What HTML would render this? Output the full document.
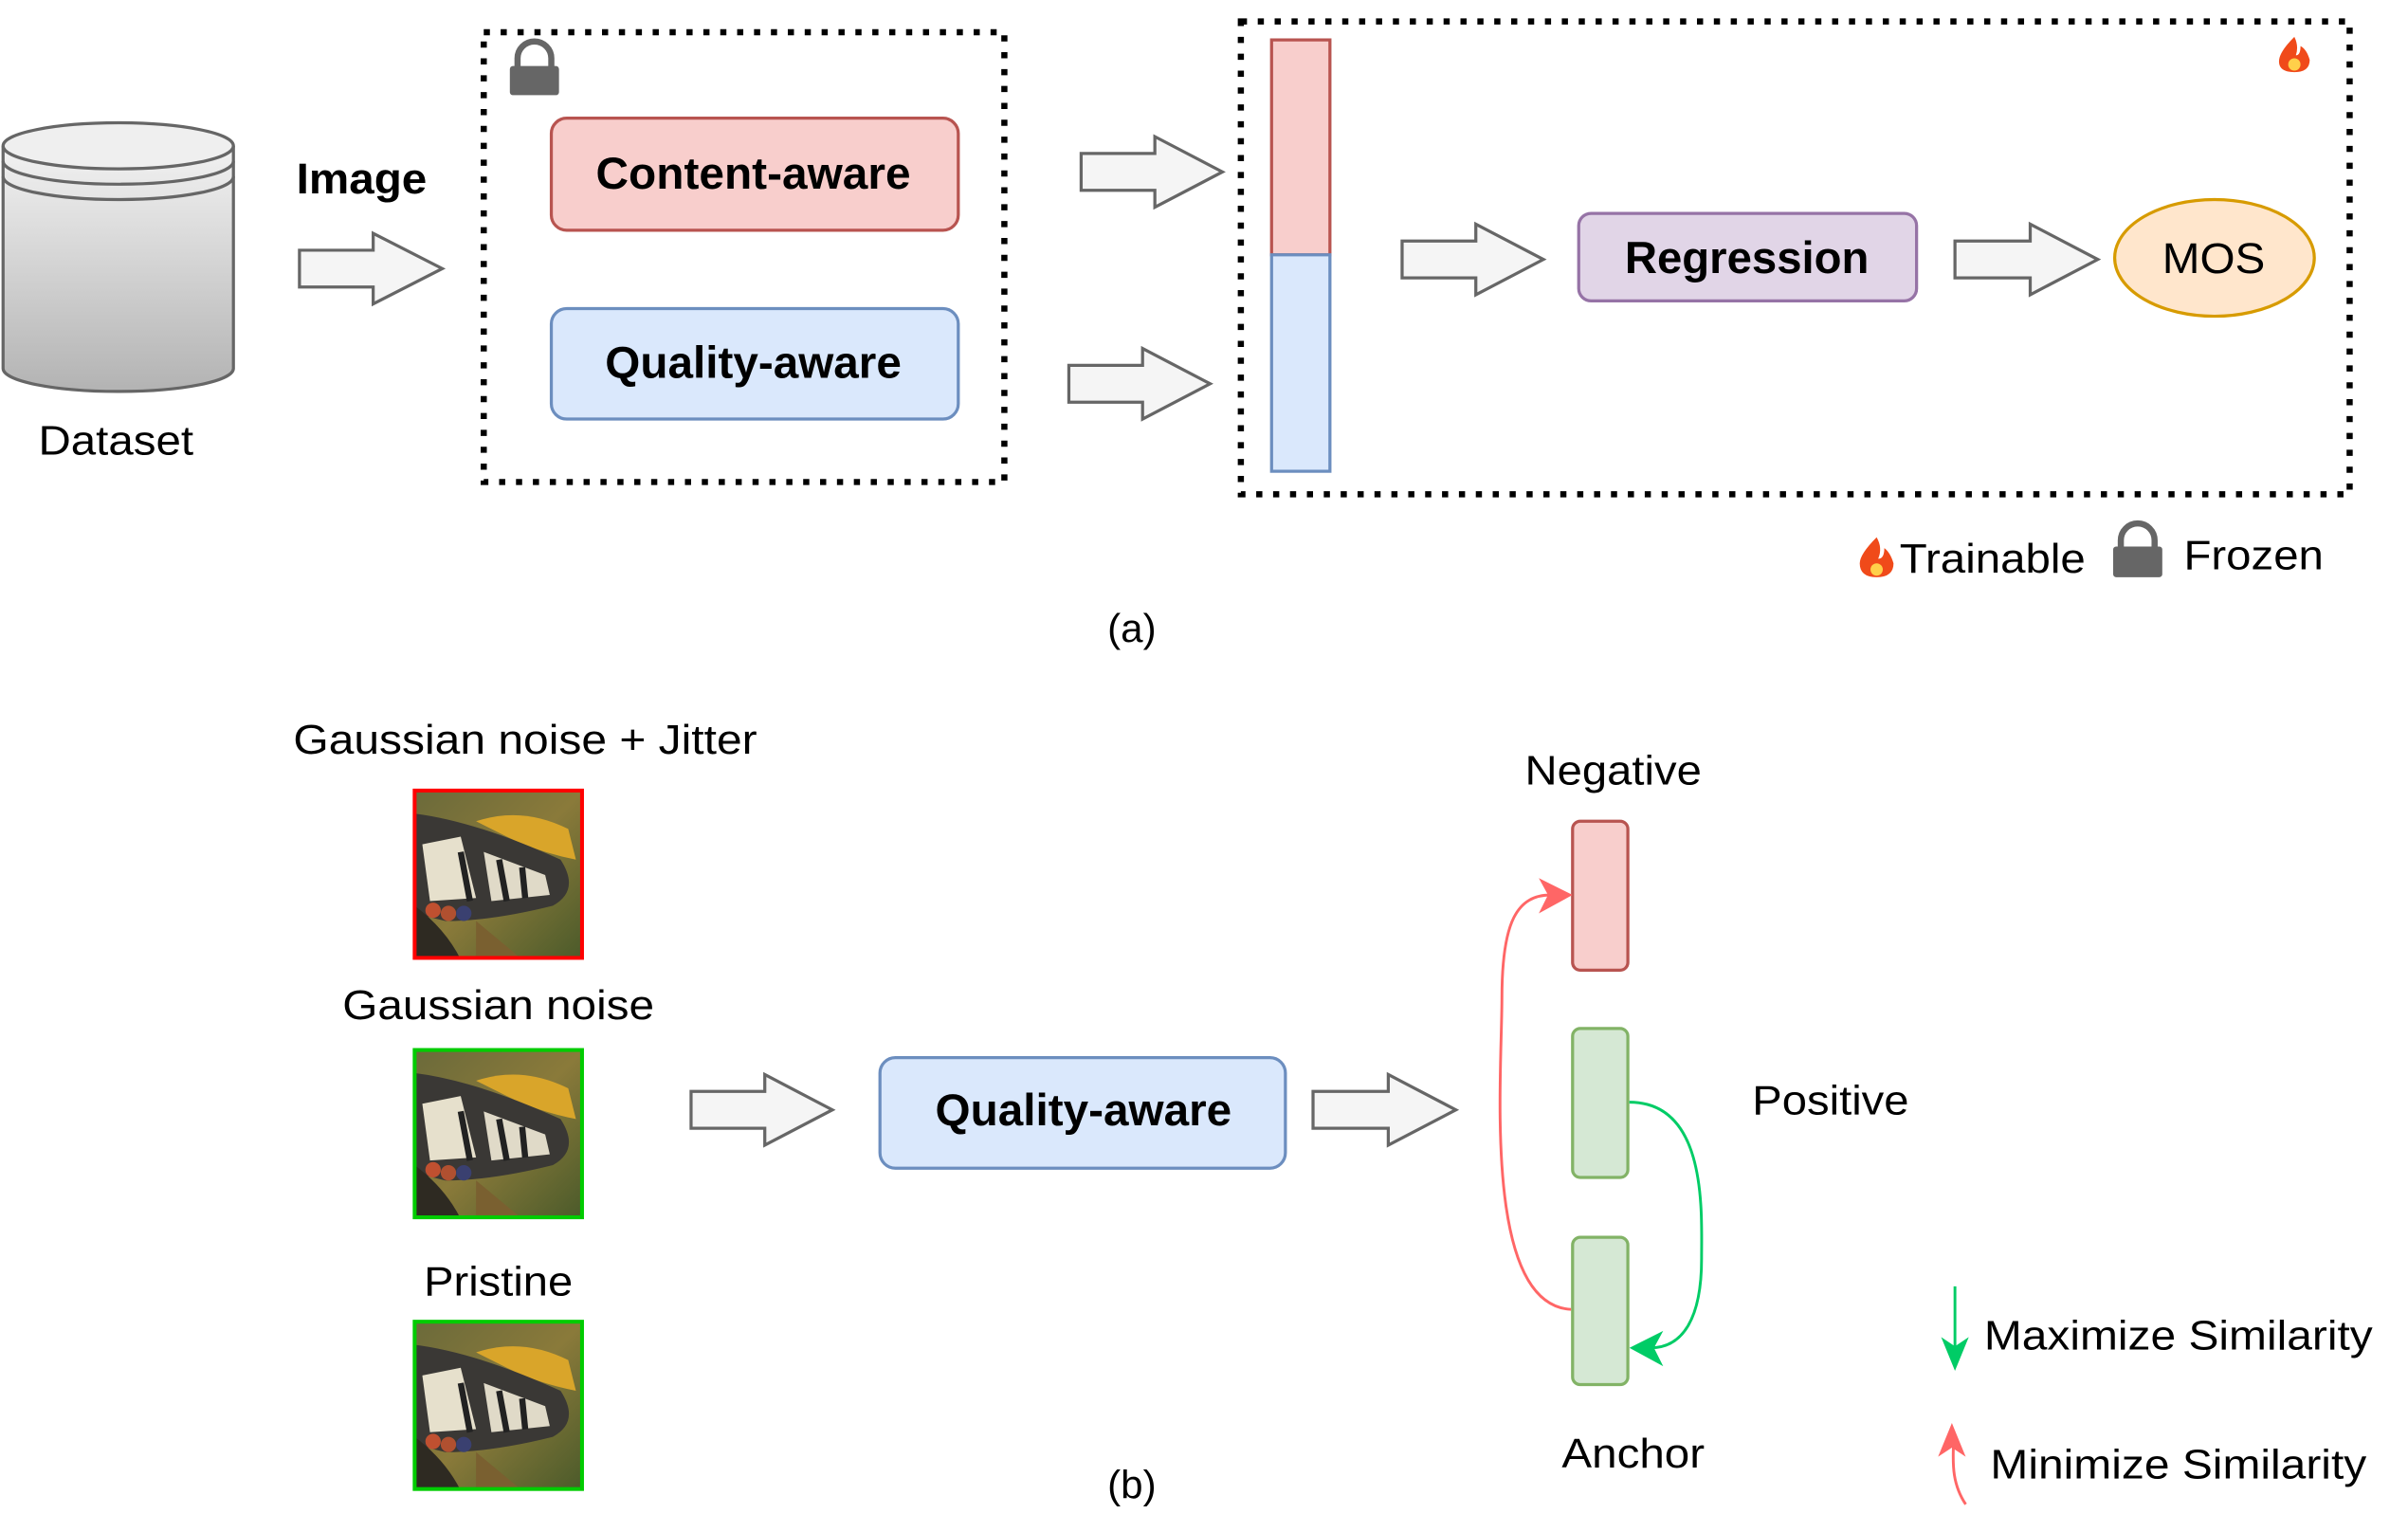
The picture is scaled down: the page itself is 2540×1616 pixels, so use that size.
<!DOCTYPE html>
<html><head><meta charset="utf-8"><style>html,body{margin:0;padding:0;background:#fff}svg{display:block}</style></head>
<body>
<svg width="2540" height="1616" viewBox="0 0 1568 998" preserveAspectRatio="none" xmlns="http://www.w3.org/2000/svg" font-family="Liberation Sans, Arial, sans-serif">
<defs>
<linearGradient id="cyl" x1="0" y1="0" x2="0" y2="1"><stop offset="0" stop-color="#f2f2f2"/><stop offset="1" stop-color="#b3b3b3"/></linearGradient>
<linearGradient id="bf" x1="0" y1="0" x2="1" y2="1"><stop offset="0" stop-color="#6b6a3a"/><stop offset="0.5" stop-color="#8a7a3a"/><stop offset="1" stop-color="#4a5a2a"/></linearGradient>
<g id="bfly">
<rect x="0" y="0" width="110" height="110" fill="url(#bf)"/>
<path d="M40 20 Q70 10 100 25 L105 45 Q80 40 60 30 Z" fill="#d9a52a"/>
<path d="M0 15 Q40 20 95 45 Q108 65 90 75 Q50 85 20 85 L0 80 Z" fill="#3a3835"/>
<path d="M5 35 L30 30 L40 70 L10 72 Z" fill="#e6e0cc"/>
<path d="M45 40 L85 55 L88 68 L50 72 Z" fill="#e0dac8"/>
<path d="M30 40 L36 72 M55 45 L60 72 M70 50 L72 70" stroke="#222" stroke-width="4"/>
<path d="M0 75 Q20 90 30 110 L0 110 Z" fill="#2e2a22"/>
<circle cx="12" cy="78" r="5" fill="#c05030"/><circle cx="22" cy="80" r="5" fill="#b05030"/><circle cx="32" cy="80" r="5" fill="#3a4070"/>
<path d="M40 85 L70 110 L40 110 Z" fill="#7a6030"/>
</g>
</defs>

<path d="M2 95 L2 240 A75 15 0 0 0 152 240 L152 95" fill="url(#cyl)" stroke="#666" stroke-width="2"/>
<ellipse cx="77" cy="95" rx="75" ry="15" fill="#efefef" stroke="#666" stroke-width="2"/>
<path d="M2 105 A75 15 0 0 0 152 105 M2 115 A75 15 0 0 0 152 115" fill="none" stroke="#666" stroke-width="2"/>
<g lengthAdjust="spacingAndGlyphs">
<text x="25" y="296" font-size="27" textLength="101" lengthAdjust="spacingAndGlyphs">Dataset</text>
<text x="193" y="126" font-size="28" font-weight="bold" textLength="85" lengthAdjust="spacingAndGlyphs">Image</text>
</g>

<g fill="#f5f5f5" stroke="#666" stroke-width="2">
<path d="M195 163 L243 163 L243 152 L288 175 L243 198 L243 187 L195 187 Z"/>
<path d="M704 100 L752 100 L752 89 L796 112 L752 135 L752 124 L704 124 Z"/>
<path d="M696 238 L744 238 L744 227 L788 250 L744 273 L744 262 L696 262 Z"/>
<path d="M913 157 L961 157 L961 146 L1005 169 L961 192 L961 181 L913 181 Z"/>
<path d="M1273 157 L1322 157 L1322 146 L1366 169 L1322 192 L1322 181 L1273 181 Z"/>
<path d="M450 711 L498 711 L498 700 L542 723 L498 746 L498 735 L450 735 Z"/>
<path d="M855 711 L904 711 L904 700 L948 723 L904 746 L904 735 L855 735 Z"/>
</g>

<rect x="315" y="21" width="339" height="293" fill="none" stroke="#000" stroke-width="4" stroke-dasharray="4 7"/>
<rect x="808" y="14" width="722" height="308" fill="none" stroke="#000" stroke-width="4" stroke-dasharray="4 7"/>

<g fill="#666">
<path d="M337 44 L337 38 A11 11 0 0 1 359 38 L359 44" fill="none" stroke="#666" stroke-width="4"/>
<rect x="332" y="43" width="32" height="19" rx="2"/>
<path d="M1381 357 L1381 352 A11 11 0 0 1 1403 352 L1403 357" fill="none" stroke="#666" stroke-width="4"/>
<rect x="1376" y="356" width="32" height="20" rx="2"/>
</g>

<rect x="359" y="77" width="265" height="73" rx="10" fill="#f8cecc" stroke="#b85450" stroke-width="2"/>
<text x="388" y="123" font-size="29" font-weight="bold" textLength="205" lengthAdjust="spacingAndGlyphs">Content-aware</text>
<rect x="359" y="201" width="265" height="72" rx="10" fill="#dae8fc" stroke="#6c8ebf" stroke-width="2"/>
<text x="394" y="246" font-size="29" font-weight="bold" textLength="193" lengthAdjust="spacingAndGlyphs">Quality-aware</text>

<rect x="828" y="26" width="38" height="140" fill="#f8cecc" stroke="#b85450" stroke-width="2"/>
<rect x="828" y="166" width="38" height="141" fill="#dae8fc" stroke="#6c8ebf" stroke-width="2"/>

<rect x="1028" y="139" width="220" height="57" rx="8" fill="#e1d5e7" stroke="#9673a6" stroke-width="2"/>
<text x="1058" y="178" font-size="29" font-weight="bold" textLength="159" lengthAdjust="spacingAndGlyphs">Regression</text>
<ellipse cx="1442" cy="168" rx="65" ry="38" fill="#ffe6cc" stroke="#d79b00" stroke-width="2"/>
<text x="1408" y="178" font-size="28" textLength="67" lengthAdjust="spacingAndGlyphs">MOS</text>

<path d="M1494 24 Q1484 34 1484 40 Q1484 47 1494 47 Q1504 47 1504 39 Q1502 32 1498 30 Q1498 36 1495 36 Q1497 30 1494 24 Z" fill="#f04a1a"/>
<circle cx="1494" cy="42" r="4" fill="#ffd04a"/>
<path d="M1222 350 Q1211 361 1211 367 Q1211 376 1222 376 Q1233 376 1233 367 Q1231 360 1227 357 Q1227 364 1223 364 Q1226 357 1222 350 Z" fill="#f04a1a"/>
<circle cx="1222" cy="371" r="4" fill="#ffd04a"/>
<text x="1237" y="373" font-size="27" textLength="121" lengthAdjust="spacingAndGlyphs">Trainable</text>
<text x="1422" y="371" font-size="27" textLength="91" lengthAdjust="spacingAndGlyphs">Frozen</text>
<text x="737" y="418" font-size="26" text-anchor="middle">(a)</text>

<text x="191" y="491" font-size="27" textLength="302" lengthAdjust="spacingAndGlyphs">Gaussian noise + Jitter</text>
<use href="#bfly" x="270" y="515"/>
<rect x="270" y="515" width="109" height="109" fill="none" stroke="#f00" stroke-width="2.5"/>
<text x="223" y="664" font-size="27" textLength="203" lengthAdjust="spacingAndGlyphs">Gaussian noise</text>
<use href="#bfly" x="270" y="684"/>
<rect x="270" y="684" width="109" height="109" fill="none" stroke="#0c0" stroke-width="2.5"/>
<text x="276" y="844" font-size="27" textLength="97" lengthAdjust="spacingAndGlyphs">Pristine</text>
<use href="#bfly" x="270" y="861"/>
<rect x="270" y="861" width="109" height="109" fill="none" stroke="#0c0" stroke-width="2.5"/>
<text x="737" y="976" font-size="26" text-anchor="middle">(b)</text>

<rect x="573" y="689" width="264" height="72" rx="10" fill="#dae8fc" stroke="#6c8ebf" stroke-width="2"/>
<text x="609" y="733" font-size="29" font-weight="bold" textLength="193" lengthAdjust="spacingAndGlyphs">Quality-aware</text>

<text x="993" y="511" font-size="27" textLength="115" lengthAdjust="spacingAndGlyphs">Negative</text>
<rect x="1024" y="535" width="36" height="97" rx="5" fill="#f8cecc" stroke="#b85450" stroke-width="2"/>
<rect x="1024" y="670" width="36" height="97" rx="5" fill="#d5e8d4" stroke="#82b366" stroke-width="2"/>
<rect x="1024" y="806" width="36" height="96" rx="5" fill="#d5e8d4" stroke="#82b366" stroke-width="2"/>
<text x="1141" y="726" font-size="27" textLength="102" lengthAdjust="spacingAndGlyphs">Positive</text>
<text x="1017" y="956" font-size="27" textLength="93" lengthAdjust="spacingAndGlyphs">Anchor</text>

<path d="M1023 853 C965 850 978 700 978 650 C978 600 988 583 1010 583" fill="none" stroke="#ff6666" stroke-width="1.8"/>
<path d="M1024 583 L1002 572 L1008 583 L1002 595 Z" fill="#ff6666"/>
<path d="M1061 718 C1112 718 1108 790 1108 820 C1108 860 1095 878 1075 878" fill="none" stroke="#00cc66" stroke-width="1.8"/>
<path d="M1061 878 L1083 867 L1077 878 L1083 890 Z" fill="#00cc66"/>

<path d="M1273 838 L1273 880" stroke="#00cc66" stroke-width="1.8"/>
<path d="M1273 893 L1264 871 L1273 877 L1282 871 Z" fill="#00cc66"/>
<text x="1292" y="879" font-size="27" textLength="253" lengthAdjust="spacingAndGlyphs">Maximize Similarity</text>
<path d="M1280 980 C1270 965 1272 950 1272 940" fill="none" stroke="#ff6666" stroke-width="1.8"/>
<path d="M1271 927 L1262 949 L1271 943 L1280 949 Z" fill="#ff6666"/>
<text x="1296" y="963" font-size="27" textLength="245" lengthAdjust="spacingAndGlyphs">Minimize Similarity</text>
</svg>
</body></html>
